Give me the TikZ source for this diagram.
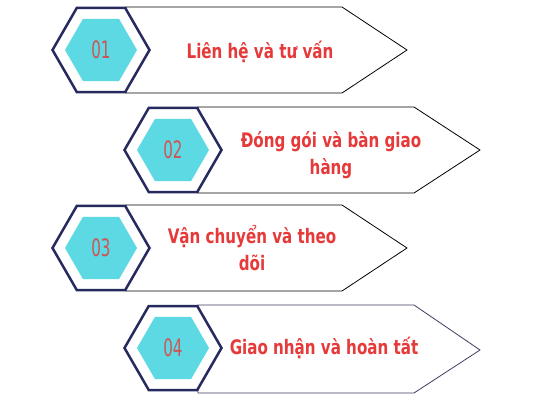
\documentclass[tikz,border=0pt]{standalone}
\usepackage{fontspec}
\usetikzlibrary{shapes.geometric,calc}
\newfontfamily\titlefont[FakeStretch=0.84]{DejaVu Sans Condensed}
\newfontfamily\numfont[FakeStretch=0.7]{DejaVu Sans Condensed}
\definecolor{hexnavy}{HTML}{262A5E}
\definecolor{hexcyan}{HTML}{5CD9E3}
\definecolor{titlered}{HTML}{E63A3A}
\definecolor{numred}{HTML}{CF5555}
\definecolor{edgenavy}{HTML}{3D3F5F}
\tikzset{x=1pt, y=1pt,
    hexout/.style={regular polygon, regular polygon sides=6, minimum size=97pt,
        draw=hexnavy, line width=2.5pt, fill=white, inner sep=0pt},
    hexin/.style={regular polygon, regular polygon sides=6, minimum size=72pt,
        fill=hexcyan, inner sep=0pt},
    arrowbox/.style={draw=black, line width=0.8pt, fill=white, line join=miter},
    steplabel/.style={text=numred, font={\numfont\fontsize{24}{24}\selectfont}},
    steptitle/.style={text=titlered, align=center,
        font={\titlefont\bfseries\fontsize{20}{27}\selectfont}},
    }
\begin{document}
\begin{tikzpicture}
	\fill[white] (0,0) rectangle (533,400);
	\useasboundingbox (0,0) rectangle (533,400);
	% step 01
	\coordinate (c1) at (101,350);
	\draw[arrowbox] ($(c1)+(25,43)$) -- ++(216,0) -- ++(65,-43) -- ++(-65,-43) -- ++(-216,0) -- cycle;
	\node[hexout] (h1) at (c1) {};
	\node[hexin] (i1) at (c1) {};
	\node[steplabel] (n1) at (c1) {01};
	\node[steptitle] (t1) at (260,348) {Liên hệ và tư vấn};
	% step 02
	\coordinate (c2) at (173,250);
	\draw[arrowbox] ($(c2)+(25,43)$) -- ++(216,0) -- ++(66,-43) -- ++(-66,-43) -- ++(-216,0) -- cycle;
	\node[hexout] (h2) at (c2) {};
	\node[hexin] (i2) at (c2) {};
	\node[steplabel] (n2) at (c2) {02};
	\node[steptitle] (t2) at (331,245) {Đóng gói và bàn giao\\hàng};
	% step 03
	\coordinate (c3) at (101,152);
	\draw[arrowbox] ($(c3)+(25,43)$) -- ++(216,0) -- ++(65,-43) -- ++(-65,-43) -- ++(-216,0) -- cycle;
	\node[hexout] (h3) at (c3) {};
	\node[hexin] (i3) at (c3) {};
	\node[steplabel] (n3) at (c3) {03};
	\node[steptitle] (t3) at (252,152) {Vận chuyển và theo\\dõi};
	% step 04
	\coordinate (c4) at (173,52);
	\draw[arrowbox, draw=edgenavy] ($(c4)+(25,43)$) -- ++(216,0) -- ++(66,-45) -- ++(-66,-43) -- ++(-216,0) -- cycle;
	\node[hexout] (h4) at (c4) {};
	\node[hexin] (i4) at (c4) {};
	\node[steplabel] (n4) at (c4) {04};
	\node[steptitle] (t4) at (324,52) {Giao nhận và hoàn tất};
\end{tikzpicture}
\end{document}
